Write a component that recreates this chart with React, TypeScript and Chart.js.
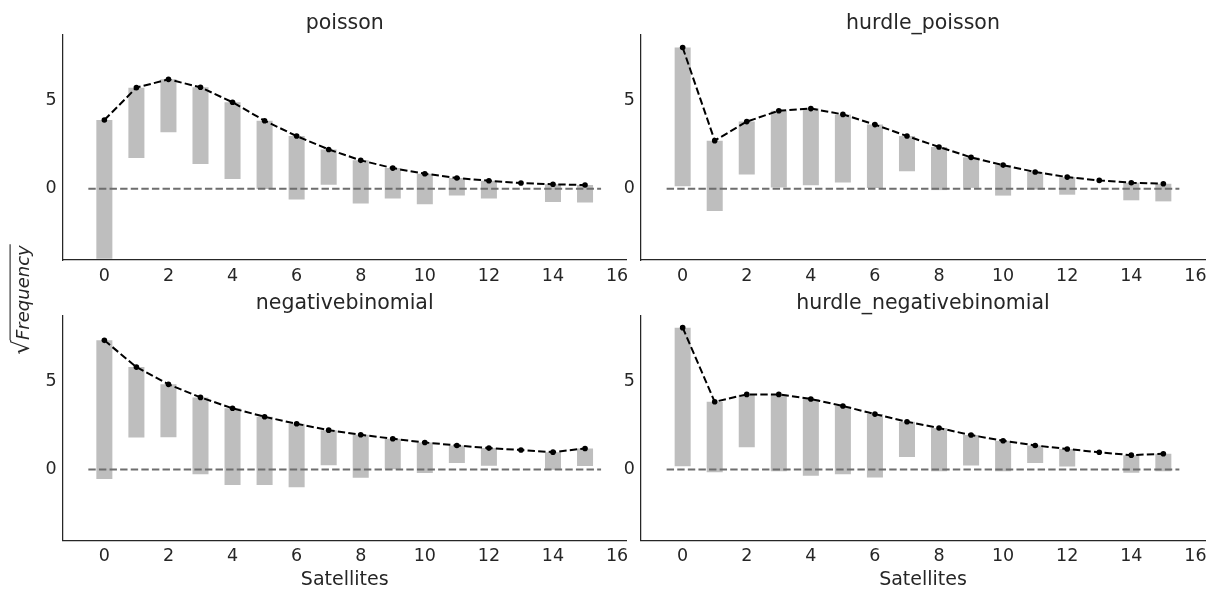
import { useEffect, useRef } from "react";
import { Chart, registerables } from "chart.js";

Chart.register(...registerables);

// ---------- data ----------
const satellites = [0, 1, 2, 3, 4, 5, 6, 7, 8, 9, 10, 11, 12, 13, 14, 15];
const observedCounts = [62, 16, 9, 19, 19, 15, 13, 4, 6, 3, 3, 1, 1, 0, 1, 1];
const poissonExpected = [3.9, 5.74, 6.21, 5.76, 4.91, 3.86, 2.99, 2.23, 1.61, 1.17, 0.85, 0.61, 0.45, 0.32, 0.25, 0.21];
const hurdlePoissonExpected = [8.02, 2.73, 3.81, 4.43, 4.55, 4.22, 3.64, 2.99, 2.37, 1.78, 1.34, 0.95, 0.66, 0.47, 0.34, 0.28];
const negativeBinomialExpected = [7.33, 5.81, 4.83, 4.09, 3.47, 2.99, 2.59, 2.23, 1.97, 1.74, 1.53, 1.36, 1.21, 1.1, 0.98, 1.19];
const hurdleNegativeBinomialExpected = [8.05, 3.84, 4.26, 4.26, 4.0, 3.6, 3.14, 2.71, 2.35, 1.95, 1.63, 1.36, 1.16, 0.97, 0.81, 0.89];
const zeroLineX = [-0.5, 15.5];
const xTicks = [0, 2, 4, 6, 8, 10, 12, 14, 16];
const yTicks = [0, 5];
const panelTitles = ["poisson", "hurdle_poisson", "negativebinomial", "hurdle_negativebinomial"];
const xAxisLabel = "Satellites";
const yAxisLabel = "Frequency";

// ---------- layout / style ----------
const W = 1214;
const H = 596;
const X_MIN = -1.3;
const X_MAX = 16.3;
const Y_MIN = -4.05;
const Y_MAX = 8.73;
const TEXT = "#262626";
const FONT = '"DejaVu Sans", "Liberation Sans", sans-serif';
const YW = 40;

type PanelDef = {
  title: string;
  expected: number[];
  left: number;
  right: number;
  top: number;
  bottom: number;
  xLabel: boolean;
  yLabel: boolean;
};

const panels: PanelDef[] = [
  { title: panelTitles[0], expected: poissonExpected, left: 62.7, right: 626.7, top: 35, bottom: 260, xLabel: false, yLabel: true },
  { title: panelTitles[1], expected: hurdlePoissonExpected, left: 641, right: 1205, top: 35, bottom: 260, xLabel: false, yLabel: false },
  { title: panelTitles[2], expected: negativeBinomialExpected, left: 62.7, right: 626.7, top: 315.7, bottom: 540.7, xLabel: true, yLabel: false },
  { title: panelTitles[3], expected: hurdleNegativeBinomialExpected, left: 641, right: 1205, top: 315.7, bottom: 540.7, xLabel: true, yLabel: false },
];

const titlePlugin = {
  id: "panelTitle",
  afterDraw(chart: any, _args: any, opts: any) {
    const { ctx, chartArea } = chart;
    ctx.save();
    ctx.font = `20.5px ${FONT}`;
    ctx.fillStyle = TEXT;
    ctx.textAlign = "center";
    ctx.textBaseline = "alphabetic";
    ctx.fillText(opts.text, (chartArea.left + chartArea.right) / 2, chartArea.top - 6.5);
    ctx.restore();
  },
};

const yLabelPlugin = {
  id: "supYLabel",
  afterDraw(chart: any, _args: any, opts: any) {
    if (!opts.show) return;
    const ctx = chart.ctx;
    ctx.save();
    ctx.fillStyle = TEXT;
    ctx.strokeStyle = TEXT;
    ctx.translate(28.5, 300);
    ctx.rotate(-Math.PI / 2);
    const radFont = `23px ${FONT}`;
    const txtFont = `italic 18px ${FONT}`;
    ctx.font = radFont;
    const rm = ctx.measureText("√");
    ctx.font = txtFont;
    const tm = ctx.measureText(yAxisLabel);
    const total = rm.width + tm.width;
    const x0 = -total / 2;
    ctx.textBaseline = "alphabetic";
    ctx.textAlign = "left";
    ctx.font = radFont;
    ctx.fillText("√", x0, 0);
    ctx.font = txtFont;
    ctx.fillText(yAxisLabel, x0 + rm.width, 0);
    const topY = -rm.actualBoundingBoxAscent + 0.6;
    ctx.lineWidth = 1.1;
    ctx.beginPath();
    ctx.moveTo(x0 + rm.actualBoundingBoxRight - 0.5, topY);
    ctx.lineTo(x0 + total + 1, topY);
    ctx.stroke();
    ctx.restore();
  },
};

function Panel({ def }: { def: PanelDef }) {
  const ref = useRef<HTMLCanvasElement | null>(null);
  useEffect(() => {
    if (!ref.current) return;
    const XH = def.xLabel ? 50.5 : 30;
    const barData = satellites.map((x, i) => ({
      x,
      y: [def.expected[i] - Math.sqrt(observedCounts[i]), def.expected[i]],
    }));
    const lineData = satellites.map((x, i) => ({ x, y: def.expected[i] }));
    const zeroData = zeroLineX.map((x) => ({ x, y: 0 }));
    const fixY = (scale: any) => {
      scale.width = YW;
      scale.paddingTop = 0;
      scale.paddingBottom = 0;
    };
    const fixX = (scale: any) => {
      scale.height = XH;
      scale.paddingLeft = 0;
      scale.paddingRight = 0;
    };
    const chart = new Chart(ref.current, {
      type: "bar",
      data: {
        datasets: [
          {
            type: "bar",
            data: barData as any,
            backgroundColor: "#bebebe",
            borderWidth: 0,
            barPercentage: 0.5,
            categoryPercentage: 1,
            order: 3,
          },
          {
            type: "line",
            data: zeroData as any,
            borderColor: "#6e6e6e",
            borderWidth: 2,
            borderDash: [7.4, 3.2],
            pointRadius: 0,
            order: 2,
          },
          {
            type: "line",
            data: lineData as any,
            borderColor: "#000000",
            borderWidth: 2,
            borderDash: [7.4, 3.2],
            tension: 0,
            pointRadius: 2.8,
            pointBackgroundColor: "#000000",
            pointBorderWidth: 0,
            order: 1,
          },
        ] as any,
      },
      options: {
        animation: false,
        responsive: false,
        maintainAspectRatio: false,
        events: [],
        layout: {
          padding: {
            left: def.left - YW,
            right: W - def.right,
            top: def.top,
            bottom: H - def.bottom - XH,
          },
        },
        scales: {
          x: {
            type: "linear",
            min: X_MIN,
            max: X_MAX,
            offset: false,
            grid: { display: false, drawTicks: false },
            border: { display: true, color: TEXT, width: 1.25 },
            afterBuildTicks: (scale: any) => {
              scale.ticks = xTicks.map((v) => ({ value: v }));
            },
            afterFit: fixX,
            ticks: {
              padding: 5.5,
              color: TEXT,
              font: { family: FONT, size: 17.5 },
              maxRotation: 0,
              autoSkip: false,
            },
            title: {
              display: def.xLabel,
              text: xAxisLabel,
              color: TEXT,
              font: { family: FONT, size: 19 },
              padding: 0,
            },
          },
          y: {
            type: "linear",
            min: Y_MIN,
            max: Y_MAX,
            grid: { display: false, drawTicks: false },
            border: { display: true, color: TEXT, width: 1.25 },
            afterBuildTicks: (scale: any) => {
              scale.ticks = yTicks.map((v) => ({ value: v }));
            },
            afterFit: fixY,
            ticks: {
              padding: 6,
              color: TEXT,
              font: { family: FONT, size: 17.5 },
            },
          },
        },
        plugins: {
          legend: { display: false },
          tooltip: { enabled: false },
          panelTitle: { text: def.title },
          supYLabel: { show: def.yLabel },
        } as any,
      },
      plugins: [titlePlugin, yLabelPlugin],
    });
    return () => chart.destroy();
  }, [def]);
  return (
    <canvas
      ref={ref}
      width={W}
      height={H}
      style={{ position: "absolute", left: 0, top: 0, width: W, height: H }}
    />
  );
}

export default function App() {
  return (
    <div
      style={{
        position: "absolute",
        left: 0,
        top: 0,
        width: W,
        height: H,
        background: "#ffffff",
        overflow: "hidden",
      }}
    >
      {panels.map((p) => (
        <Panel key={p.title} def={p} />
      ))}
    </div>
  );
}
